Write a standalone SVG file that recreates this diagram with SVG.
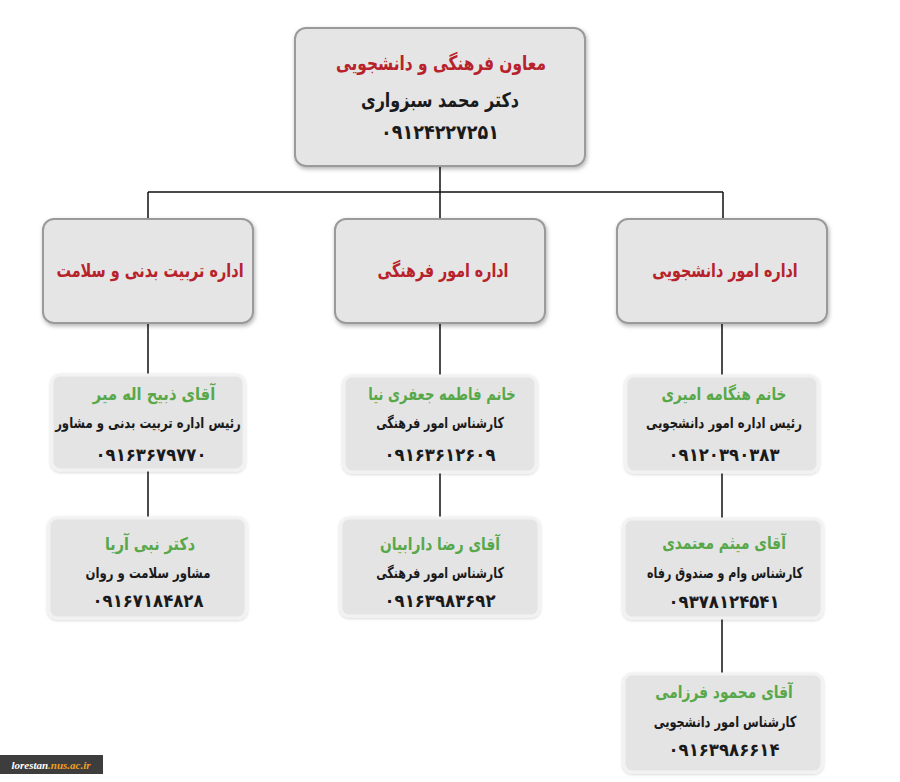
<svg xmlns="http://www.w3.org/2000/svg" width="900" height="782" viewBox="0 0 900 782">
<style>
text{font-family:"DejaVu Sans","Noto Sans",sans-serif;font-weight:bold;text-anchor:middle;direction:rtl}
.box{fill:#e5e5e6;stroke:#9a9a9a;stroke-width:2}
.pbox{fill:#e4e4e5;stroke:#f2f2f2;stroke-width:3}
.red{fill:#b8222a}
.green{fill:#58a84a}
.blk{fill:#1a1a1a}
.conn{stroke:#111;stroke-width:1.5;fill:none}
</style>
<defs>
<filter id="sh" x="-10%" y="-10%" width="120%" height="130%">
<feDropShadow dx="1" dy="2" stdDeviation="2" flood-color="#000" flood-opacity="0.3"/>
</filter>
<filter id="sh2" x="-10%" y="-10%" width="120%" height="130%">
<feDropShadow dx="0" dy="1" stdDeviation="1.5" flood-color="#000" flood-opacity="0.18"/>
</filter>
</defs>
<rect width="900" height="782" fill="#fff"/>
<g id="connectors">
<path class="conn" d="M440 166V192M148 192H723M148 192V219M440 192V219M723 192V219"/>
<path class="conn" d="M148 323V375M440 323V376M722 323V376"/>
<path class="conn" d="M148 470V518M440 472V518M722 472V519M722 618V674"/>
</g>
<g id="n-top">
<rect class="box" x="295" y="28" width="290" height="138" rx="11" filter="url(#sh)"/>
<text class="red" transform="translate(441 70) scale(0.77 1)" font-size="20">معاون فرهنگی و دانشجویی</text>
<text class="blk" transform="translate(440 107) scale(0.8 1)" font-size="20">دکتر محمد سبزواری</text>
<text class="blk" transform="translate(440 139) scale(0.88 1)" font-size="20">۰۹۱۲۴۲۲۷۲۵۱</text>
</g>
<g id="n-dep-left">
<rect class="box" x="43" y="219" width="210" height="104" rx="11" filter="url(#sh)"/>
<text class="red" transform="translate(150 277) scale(0.76 1)" font-size="19">اداره تربیت بدنی و سلامت</text>
</g>
<g id="n-dep-mid">
<rect class="box" x="335" y="219" width="210" height="104" rx="11" filter="url(#sh)"/>
<text class="red" transform="translate(443 277) scale(0.75 1)" font-size="19">اداره امور فرهنگی</text>
</g>
<g id="n-dep-right">
<rect class="box" x="617" y="219" width="210" height="104" rx="11" filter="url(#sh)"/>
<text class="red" transform="translate(725 277) scale(0.75 1)" font-size="19">اداره امور دانشجویی</text>
</g>
<g id="n-p1">
<rect class="pbox" x="52" y="375" width="192" height="95" rx="8" filter="url(#sh2)"/>
<text class="green" transform="translate(154 400) scale(0.84 1)" font-size="17.5">آقای ذبیح اله میر</text>
<text class="blk" transform="translate(148 428) scale(0.78 1)" font-size="15">رئیس اداره تربیت بدنی و مشاور</text>
<text class="blk" transform="translate(151 461) scale(0.92 1)" font-size="18">۰۹۱۶۳۶۷۹۷۷۰</text>
</g>
<g id="n-p2">
<rect class="pbox" x="49" y="518" width="197" height="100" rx="8" filter="url(#sh2)"/>
<text class="green" transform="translate(150 550) scale(0.82 1)" font-size="17.5">دکتر نبی آریا</text>
<text class="blk" transform="translate(148 578) scale(0.78 1)" font-size="15">مشاور سلامت و روان</text>
<text class="blk" transform="translate(148 607) scale(0.92 1)" font-size="18">۰۹۱۶۷۱۸۴۸۲۸</text>
</g>
<g id="n-p3">
<rect class="pbox" x="344" y="376" width="192" height="96" rx="8" filter="url(#sh2)"/>
<text class="green" transform="translate(442 400) scale(0.75 1)" font-size="17.5">خانم  فاطمه جعفری نیا</text>
<text class="blk" transform="translate(440 428) scale(0.74 1)" font-size="15">کارشناس امور فرهنگی</text>
<text class="blk" transform="translate(440 461) scale(0.92 1)" font-size="18">۰۹۱۶۳۶۱۲۶۰۹</text>
</g>
<g id="n-p4">
<rect class="pbox" x="341" y="518" width="198" height="98" rx="8" filter="url(#sh2)"/>
<text class="green" transform="translate(440 550) scale(0.79 1)" font-size="17.5">آقای رضا دارابیان</text>
<text class="blk" transform="translate(440 578) scale(0.74 1)" font-size="15">کارشناس امور فرهنگی</text>
<text class="blk" transform="translate(440 607) scale(0.92 1)" font-size="18">۰۹۱۶۳۹۸۳۶۹۲</text>
</g>
<g id="n-p5">
<rect class="pbox" x="626" y="376" width="192" height="96" rx="8" filter="url(#sh2)"/>
<text class="green" transform="translate(724 400) scale(0.78 1)" font-size="17.5">خانم هنگامه امیری</text>
<text class="blk" transform="translate(724 428) scale(0.78 1)" font-size="15">رئیس اداره امور دانشجویی</text>
<text class="blk" transform="translate(724 461) scale(0.92 1)" font-size="18">۰۹۱۲۰۳۹۰۳۸۳</text>
</g>
<g id="n-p6">
<rect class="pbox" x="624" y="519" width="198" height="99" rx="8" filter="url(#sh2)"/>
<text class="green" transform="translate(724 549) scale(0.79 1)" font-size="17.5">آقای میثم معتمدی</text>
<text class="blk" transform="translate(725 578) scale(0.74 1)" font-size="15">کارشناس وام و صندوق رفاه</text>
<text class="blk" transform="translate(724 608) scale(0.92 1)" font-size="18">۰۹۳۷۸۱۲۴۵۴۱</text>
</g>
<g id="n-p7">
<rect class="pbox" x="624" y="674" width="198" height="98" rx="8" filter="url(#sh2)"/>
<text class="green" transform="translate(724 698) scale(0.79 1)" font-size="17.5">آقای محمود فرزامی</text>
<text class="blk" transform="translate(725 727) scale(0.76 1)" font-size="15">کارشناس امور دانشجویی</text>
<text class="blk" transform="translate(724 756) scale(0.92 1)" font-size="18">۰۹۱۶۳۹۸۶۶۱۴</text>
</g>
<g id="watermark">
<rect x="0" y="755" width="103" height="19" fill="#3d3d3d"/>
<text x="51" y="769" font-size="11" font-style="italic" style="direction:ltr;font-family:'Liberation Serif',serif"><tspan fill="#fff">lorestan</tspan><tspan fill="#f0a020">.nus.ac.ir</tspan></text>
</g>
</svg>
